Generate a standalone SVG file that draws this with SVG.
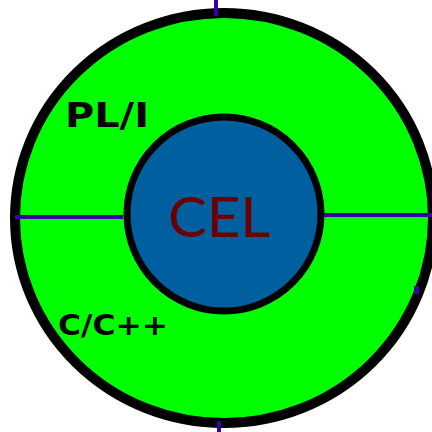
<svg xmlns="http://www.w3.org/2000/svg" width="432" height="432" viewBox="0 0 432 432">
<style>
.ring{fill:#00ff00;stroke:#000;stroke-width:10}
.core{fill:#005f9f;stroke:#000;stroke-width:7}
.lbl{font-family:"DejaVu Sans",sans-serif;font-weight:bold;fill:#000}
.cel{font-family:"Lato","DejaVu Sans",sans-serif;fill:#6b0000}
.conn{stroke:#3a00a8;stroke-width:4;fill:none}
</style>
<rect width="432" height="432" fill="#fff"/>
<g id="outer">
<ellipse class="ring" cx="224" cy="218" rx="209" ry="205"/>
<text class="lbl" x="65" y="127" font-size="33" textLength="84" lengthAdjust="spacingAndGlyphs">PL/I</text>
<text class="lbl" x="58" y="335" font-size="28" textLength="110" lengthAdjust="spacingAndGlyphs">C/C++</text>
</g>
<g id="connectors">
<line class="conn" x1="216" y1="0" x2="216" y2="16"/>
<line class="conn" x1="219" y1="421" x2="219" y2="432"/>
<line class="conn" x1="15" y1="217" x2="123" y2="217"/>
<line class="conn" x1="320" y1="215" x2="432" y2="215"/>
<rect x="414" y="286" width="5" height="8" fill="#3a00a8"/>
</g>
<g id="cel">
<circle class="core" cx="224" cy="214" r="97"/>
<text class="cel" x="168" y="237" font-size="57" textLength="102" lengthAdjust="spacingAndGlyphs">CEL</text>
</g>
</svg>
